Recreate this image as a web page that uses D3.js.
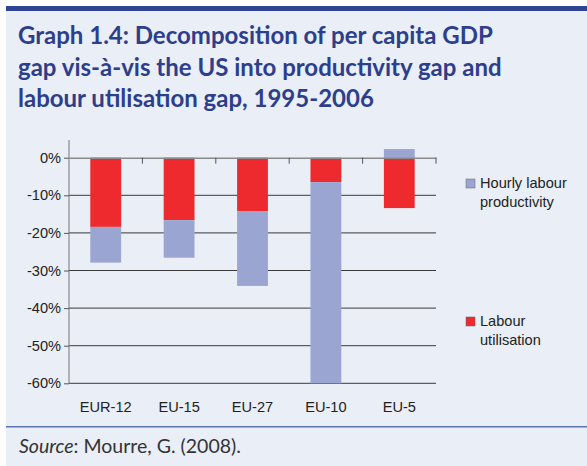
<!DOCTYPE html>
<html><head><meta charset="utf-8">
<script src="https://cdn.jsdelivr.net/npm/d3@7"></script>
<style>body{margin:0;background:#fff}svg{display:block}</style>
</head><body>
<svg id="c" width="587" height="466"></svg>
<script>
const categories = ["EUR-12","EU-15","EU-27","EU-10","EU-5"];
const labourUtilisation = [-18.4,-16.6,-14.2,-6.5,-13.4];
const productivity = [-9.5,-10.0,-19.9,-53.5,2.3];
const yTicks = [0,-10,-20,-30,-40,-50,-60];
const seriesNames = ["Hourly labour productivity","Labour utilisation"];

const svg = d3.select("#c");
svg.append("rect").attr("x",6).attr("y",6).attr("width",581).attr("height",460).attr("fill","#e9eef7");
svg.append("rect").attr("x",6).attr("y",6).attr("width",581).attr("height",5).attr("fill","#2f4594");
svg.append("rect").attr("x",6).attr("y",426).attr("width",581).attr("height",1.5).attr("fill","#5b72b3");

const titleLines = ["Graph 1.4: Decomposition of per capita GDP","gap vis-à-vis the US into productivity gap and","labour utilisation gap, 1995-2006"];
svg.append("g").selectAll("text").data(titleLines).join("text")
  .attr("x",18).attr("y",(d,i)=>44+i*31.5)
  .attr("font-family","Lato, 'Open Sans', sans-serif").attr("font-weight","bold")
  .attr("font-size",24).attr("fill","#2c3e8c").text(d=>d);

const x = d3.scaleBand().domain(categories).range([69,436]).paddingInner(0).paddingOuter(0);
const y = d3.scaleLinear().domain([-60,0]).range([383.3,157.7]);
const bw = x.bandwidth()*0.42;
const fs = 14.6;

// gridlines
svg.append("g").selectAll("line").data(yTicks.filter(t=>t!==0)).join("line")
  .attr("x1",69).attr("x2",436).attr("y1",d=>y(d)).attr("y2",d=>y(d))
  .attr("stroke","#3a3a3a").attr("stroke-width",1);

const g = svg.append("g");
// labour utilisation (red) from 0 down
g.selectAll("rect.lu").data(categories).join("rect").attr("class","lu")
  .attr("x",d=>x(d)+(x.bandwidth()-bw)/2).attr("width",bw)
  .attr("y",(d,i)=>y(Math.max(0,labourUtilisation[i])))
  .attr("height",(d,i)=>Math.abs(y(labourUtilisation[i])-y(0)))
  .attr("fill","#ee2a2e");
// productivity stacked beyond
g.selectAll("rect.pr").data(categories).join("rect").attr("class","pr")
  .attr("x",d=>x(d)+(x.bandwidth()-bw)/2).attr("width",bw)
  .attr("y",(d,i)=>{const p=productivity[i]; return p<0? y(labourUtilisation[i]) : y(p);})
  .attr("height",(d,i)=>{const p=productivity[i]; return p<0? Math.abs(y(labourUtilisation[i]+p)-y(labourUtilisation[i])) : y(0)-y(p);})
  .attr("fill","#9aa6d1");

// y axis
const ya = svg.append("g").attr("transform","translate(69,0)")
  .call(d3.axisLeft(y).tickValues(yTicks).tickFormat(d=>d+"%").tickSizeOuter(0).tickSize(5));
ya.select(".domain").attr("stroke","#777").attr("d","M0,140V383.3");
ya.selectAll(".tick line").attr("stroke","#555");
ya.selectAll(".tick text").attr("font-family","'Liberation Sans', Arial, sans-serif").attr("font-size",fs).attr("fill","#222").attr("x",-8);

// zero line with ticks
const xa = svg.append("g").attr("transform",`translate(0,${y(0)})`)
  .call(d3.axisBottom(x).tickSize(0).tickFormat(""));
xa.select(".domain").attr("stroke","#8a8a8a").attr("stroke-width",1.5);
svg.append("g").selectAll("line").data(categories.slice(1).map(c=>x(c)).concat([436]))
  .join("line").attr("x1",d=>d).attr("x2",d=>d).attr("y1",y(0)).attr("y2",y(0)+6)
  .attr("stroke","#555");

// category labels
svg.append("g").selectAll("text").data(categories).join("text")
  .attr("x",d=>x(d)+x.bandwidth()/2).attr("y",412).attr("text-anchor","middle")
  .attr("font-family","'Liberation Sans', Arial, sans-serif").attr("font-size",fs).attr("fill","#222").text(d=>d);

// legend
const legend = [
  {name:seriesNames[0], lines:["Hourly labour","productivity"], color:"#9aa6d1", y:179},
  {name:seriesNames[1], lines:["Labour","utilisation"], color:"#ee2a2e", y:317}
];
const lg = svg.append("g").selectAll("g").data(legend).join("g");
lg.append("rect").attr("x",466).attr("y",d=>d.y).attr("width",9).attr("height",9).attr("fill",d=>d.color)
  .attr("stroke","#666").attr("stroke-width",0.5);
lg.each(function(d){
  d3.select(this).selectAll("text").data(d.lines).join("text")
    .attr("x",480).attr("y",(t,i)=>d.y+8.5+i*19.5)
    .attr("font-family","'Liberation Sans', Arial, sans-serif").attr("font-size",fs).attr("fill","#222").text(t=>t);
});

// source
const src = svg.append("text").attr("x",19).attr("y",453).attr("font-family","Lato, 'Open Sans', sans-serif").attr("font-size",19.5).attr("fill","#333");
src.append("tspan").attr("font-style","italic").text("Source");
src.append("tspan").text(": Mourre, G. (2008).");
</script>
</body></html>
